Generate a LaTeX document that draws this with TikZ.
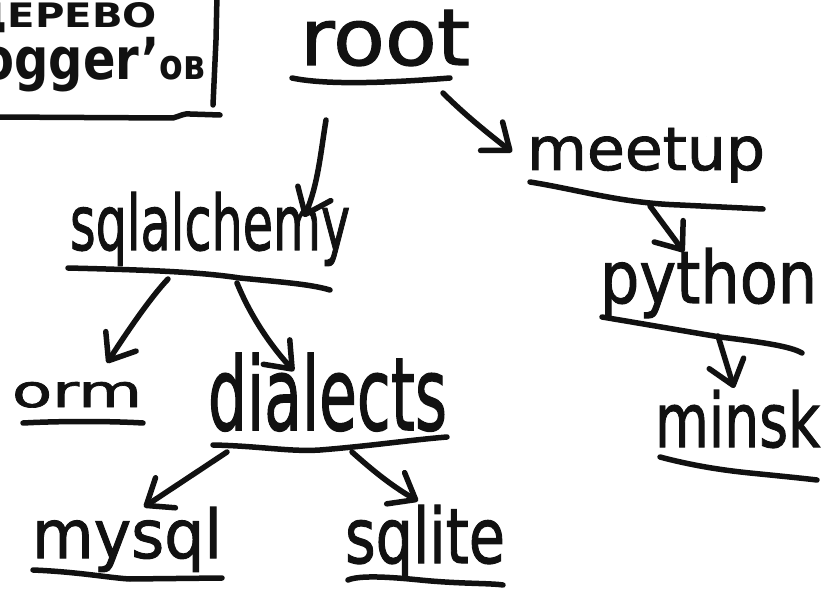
\documentclass[tikz,border=0pt]{standalone}
\usepackage{fontspec}
\setmainfont{DejaVu Sans}
\newfontfamily\hand{DejaVu Sans}[FakeBold=1.5]
\usepackage{graphicx}
\usetikzlibrary{arrows.meta}
\definecolor{inkc}{HTML}{111111}
\tikzset{
  ink/.style={line width=5.5pt, line cap=round, line join=round, draw=inkc},
  conn/.style={ink, -{Straight Barb[length=23pt,width=36pt,line cap=round,line join=round]}},
  lbl/.style={inner sep=0pt, outer sep=0pt, anchor=base west, text=inkc, font=\hand\mdseries},
  lble/.style={inner sep=0pt, outer sep=0pt, anchor=base east, text=inkc, font=\bfseries},
}
\newcommand{\hw}[3]{\resizebox{#1pt}{#2pt}{#3}}
\begin{document}
\begin{tikzpicture}[x=1pt,y=-1pt]
\useasboundingbox (0,0) rectangle (823,591);
\fill[white] (0,0) rectangle (823,591);
\clip (0,0) rectangle (823,591);

% title box
\node[lble] (t1) at (157,28) {\hw{185}{25}{ДЕРЕВО}};
\node[lble] (t2) at (205,80) {\hw{240}{44}{logger'\scalebox{0.72}{ов}}};
\draw[ink] (217,-5) -- (216,40) -- (213,105);
\draw[ink] (-5,117) -- (173,118) .. controls (180,116) and (185,113) .. (190,114) -- (220,115);

% labels
\node[lbl] (root) at (300,65) {\hw{170}{55}{root}};
\node[lbl] (meetup) at (527,170) {\hw{238}{42}{meetup}};
\node[lbl] (sqla) at (70,250) {\hw{280}{58}{sqlalchemy}};
\node[lbl] (python) at (600,303) {\hw{217}{55}{python}};
\node[lbl] (minsk) at (655,447) {\hw{165}{57}{minsk}};
\node[lbl] (orm) at (12,407) {\hw{130}{25}{orm}};
\node[lbl] (dialects) at (208,430) {\hw{239}{77}{dialects}};
\node[lbl] (mysql) at (32,558) {\hw{190}{51}{mysql}};
\node[lbl] (sqlite) at (345,563) {\hw{160}{58}{sqlite}};

% underlines
\draw[ink] (292,78) .. controls (330,86) and (400,82) .. (450,78);
\draw[ink] (530,182) .. controls (580,190) and (620,203) .. (680,205) -- (763,209);
\draw[ink] (68,268) .. controls (150,270) and (200,272) .. (240,278) .. controls (280,282) and (310,284) .. (330,290);
\draw[ink] (602,317) .. controls (650,325) and (690,332) .. (720,337) .. controls (760,342) and (790,346) .. (802,353);
\draw[ink] (660,457) .. controls (690,465) and (720,470) .. (750,473) .. controls (780,476) and (800,478) .. (817,480);
\draw[ink] (23,423) .. controls (60,421) and (110,421) .. (143,423);
\draw[ink] (213,445) .. controls (260,446) and (290,452) .. (320,450) .. controls (370,446) and (410,440) .. (447,437);
\draw[ink] (33,570) .. controls (80,572) and (110,578) .. (130,579) -- (222,578);
\draw[ink] (348,580) .. controls (360,575) and (390,577) .. (420,580) .. controls (460,584) and (490,583) .. (503,585);

% connector anchor points
\coordinate (a1s) at (326,120); \coordinate (a1e) at (304,217);
\coordinate (a2s) at (443,93);  \coordinate (a2e) at (512,152);
\coordinate (a3s) at (650,206); \coordinate (a3e) at (684,252);
\coordinate (a4s) at (718,336); \coordinate (a4e) at (734,388);
\coordinate (a5s) at (168,279); \coordinate (a5e) at (107,363);
\coordinate (a6s) at (237,283); \coordinate (a6e) at (294,371);
\coordinate (a7s) at (227,452); \coordinate (a7e) at (144,507);
\coordinate (a8s) at (352,452); \coordinate (a8e) at (418,501);

% connectors
\draw[conn] (a1s) .. controls (321,150) and (318,185) .. (a1e);
\draw[conn] (a2s) .. controls (465,115) and (490,135) .. (a2e);
\draw[conn] (a3s) -- (a3e);
\draw[conn] (a4s) -- (a4e);
\draw[conn] (a5s) .. controls (150,298) and (125,335) .. (a5e);
\draw[conn] (a6s) .. controls (250,315) and (270,345) .. (a6e);
\draw[conn] (a7s) -- (a7e);
\draw[conn] (a8s) .. controls (370,468) and (390,485) .. (a8e);
\end{tikzpicture}
\end{document}
